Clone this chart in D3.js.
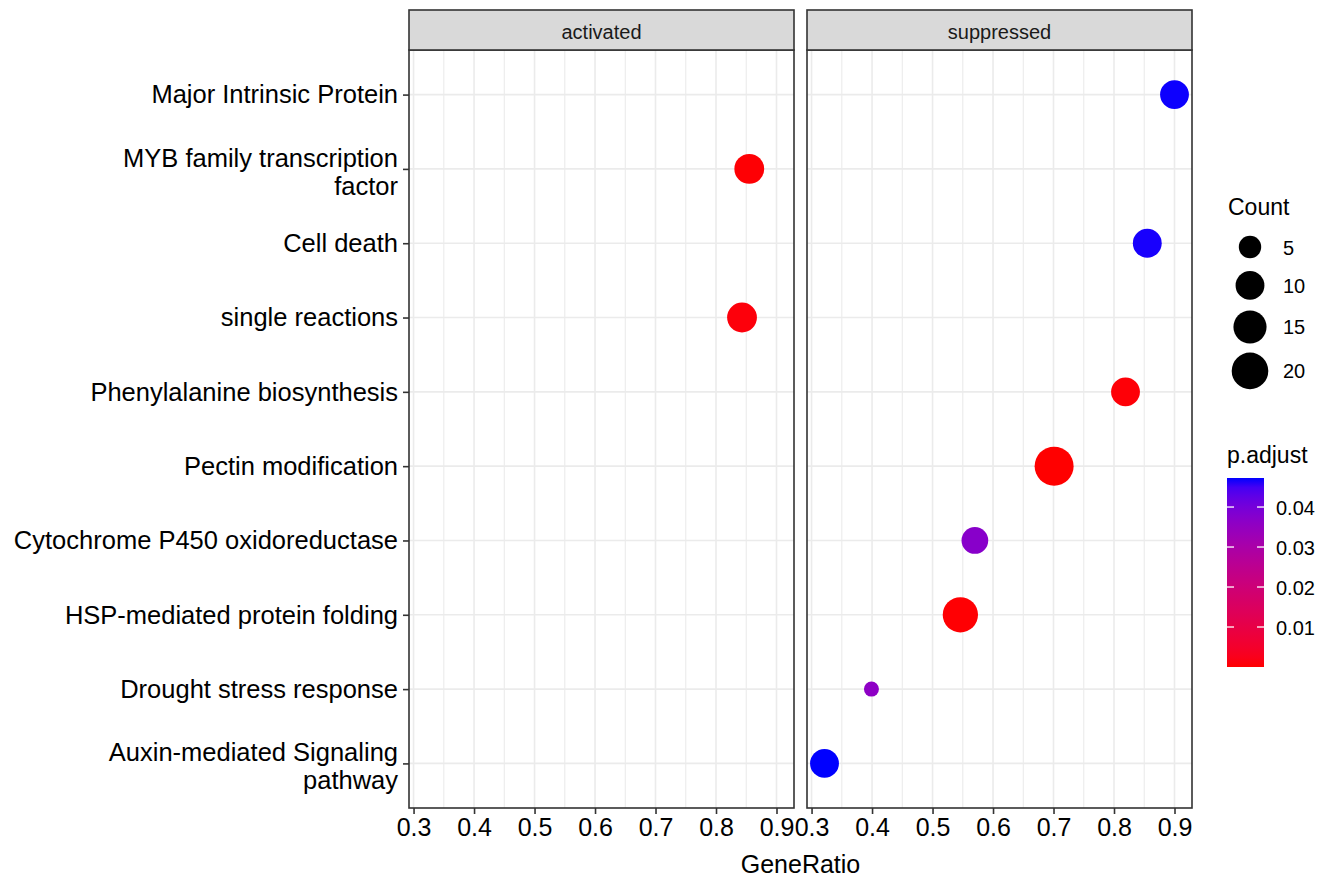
<!DOCTYPE html>
<html>
<head>
<meta charset="utf-8">
<script src="https://cdn.jsdelivr.net/npm/d3@7"></script>
<style>
  html, body { margin: 0; padding: 0; background: #ffffff; }
  svg { display: block; font-family: "Liberation Sans", Arial, sans-serif; }
</style>
</head>
<body>
<svg id="chart" width="1319" height="878"></svg>
<script>
// Facets
const panels = ["activated", "suppressed"];

// Pathway terms, top to bottom ("\n" marks a wrapped label)
const terms = [
  "Major Intrinsic Protein",
  "MYB family transcription\nfactor",
  "Cell death",
  "single reactions",
  "Phenylalanine biosynthesis",
  "Pectin modification",
  "Cytochrome P450 oxidoreductase",
  "HSP-mediated protein folding",
  "Drought stress response",
  "Auxin-mediated Signaling\npathway"
];

// One entry per dot
const pointPanel = ["activated", "activated", "suppressed", "suppressed", "suppressed",
                    "suppressed", "suppressed", "suppressed", "suppressed", "suppressed"];
const pointTerm = [1, 3, 0, 2, 4, 5, 6, 7, 8, 9];
const geneRatio = [0.855, 0.843, 0.900, 0.855, 0.819, 0.701, 0.570, 0.546, 0.399, 0.3214];
const counts    = [11, 11, 10, 10, 10, 24, 8, 18, 3, 10];
const pAdjust   = [0.0003, 0.0008, 0.0471, 0.0469, 0.0005, 0.00001, 0.037, 0.0002, 0.036, 0.04726];

// Axis and legend breaks
const xTicks = [0.3, 0.4, 0.5, 0.6, 0.7, 0.8, 0.9];
const xMinor = [0.35, 0.45, 0.55, 0.65, 0.75, 0.85];
const countBreaks = [5, 10, 15, 20];
const pBreaks = [0.01, 0.02, 0.03, 0.04];

const points = geneRatio.map((g, i) => ({
  panel: pointPanel[i], term: terms[pointTerm[i]], ratio: g, count: counts[i], p: pAdjust[i]
}));

const svg = d3.select("#chart");
const FONT = '"Liberation Sans", Arial, sans-serif';

// Layout
const panelTop = 50, panelBottom = 808, stripTop = 10;
const panelX = { activated: [409, 794], suppressed: [807, 1192] };

// Scales
const ext = d3.extent(geneRatio);
const pad = (ext[1] - ext[0]) * 0.05;
const xScales = {};
panels.forEach(p => {
  xScales[p] = d3.scaleLinear().domain([ext[0] - pad, ext[1] + pad]).range(panelX[p]);
});
const y = d3.scalePoint().domain(terms).range([panelTop, panelBottom]).padding(0.6);

const cExt = d3.extent(counts);
const cRescale = d3.scaleLinear().domain(cExt).range([0, 1]).clamp(true);
const diam = d3.scaleLinear().domain([0, 1]).range([15, 39]);
const radius = c => diam(Math.sqrt(cRescale(c))) / 2;

const pExt = d3.extent(pAdjust);
const pMin = 0, pMax = pExt[1];
const color = d3.scaleLinear().domain([pMin, pMax]).range(["#ff0000", "#0000ff"]).interpolate(d3.interpolateLab);

// Panels
panels.forEach(p => {
  const x = xScales[p];
  const [x0, x1] = panelX[p];
  const g = svg.append("g");

  g.append("rect").attr("x", x0).attr("y", panelTop).attr("width", x1 - x0)
    .attr("height", panelBottom - panelTop).attr("fill", "#ffffff");

  // minor grid
  g.selectAll(".minor").data(xMinor).join("line")
    .attr("x1", d => x(d)).attr("x2", d => x(d))
    .attr("y1", panelTop).attr("y2", panelBottom)
    .attr("stroke", "#ebebeb").attr("stroke-width", 1.1);
  // major grid
  g.selectAll(".majx").data(xTicks).join("line")
    .attr("x1", d => x(d)).attr("x2", d => x(d))
    .attr("y1", panelTop).attr("y2", panelBottom)
    .attr("stroke", "#ebebeb").attr("stroke-width", 1.6);
  g.selectAll(".majy").data(terms).join("line")
    .attr("x1", x0).attr("x2", x1)
    .attr("y1", d => y(d)).attr("y2", d => y(d))
    .attr("stroke", "#ebebeb").attr("stroke-width", 1.6);

  // dots
  g.selectAll("circle").data(points.filter(d => d.panel === p)).join("circle")
    .attr("cx", d => x(d.ratio)).attr("cy", d => y(d.term))
    .attr("r", d => radius(d.count)).attr("fill", d => color(d.p));

  // border
  g.append("rect").attr("x", x0).attr("y", panelTop).attr("width", x1 - x0)
    .attr("height", panelBottom - panelTop).attr("fill", "none")
    .attr("stroke", "#333333").attr("stroke-width", 1.6);

  // strip
  g.append("rect").attr("x", x0).attr("y", stripTop).attr("width", x1 - x0)
    .attr("height", panelTop - stripTop).attr("fill", "#d9d9d9")
    .attr("stroke", "#333333").attr("stroke-width", 1.6);
  g.append("text").attr("x", (x0 + x1) / 2).attr("y", 38.5)
    .attr("text-anchor", "middle").attr("font-size", 20).attr("fill", "#1a1a1a")
    .attr("font-family", FONT).text(p);

  // x axis
  const ax = svg.append("g").attr("transform", `translate(0,${panelBottom})`)
    .call(d3.axisBottom(x).tickValues(xTicks).tickSize(6).tickPadding(4)
      .tickFormat(d3.format(".1f")));
  ax.select(".domain").remove();
  ax.selectAll(".tick line").attr("stroke", "#333333").attr("stroke-width", 1.6);
  ax.selectAll(".tick text").attr("font-size", 25).attr("fill", "#000000")
    .attr("font-family", FONT);
});

// y axis (left panel only)
const ay = svg.append("g").attr("transform", `translate(${panelX.activated[0]},0)`)
  .call(d3.axisLeft(y).tickSize(6).tickFormat(""));
ay.select(".domain").remove();
ay.selectAll(".tick line").attr("stroke", "#333333").attr("stroke-width", 1.6);

const yLab = svg.append("g");
terms.forEach(t => {
  const lines = t.split("\n");
  const n = lines.length;
  const txt = yLab.append("text").attr("text-anchor", "end")
    .attr("font-size", 25.5).attr("fill", "#000000").attr("font-family", FONT);
  lines.forEach((ln, i) => {
    txt.append("tspan").attr("x", 398)
      .attr("y", y(t) + 8.8 + (i - (n - 1) / 2) * 28 + (n > 1 ? 3 : 0))
      .text(ln);
  });
});

// x axis title
svg.append("text").attr("x", (panelX.activated[0] + panelX.suppressed[1]) / 2).attr("y", 873)
  .attr("text-anchor", "middle").attr("font-size", 25).attr("fill", "#000000")
  .attr("font-family", FONT).text("GeneRatio");

// Size legend
const lg = svg.append("g");
lg.append("text").attr("x", 1228).attr("y", 215).attr("font-size", 23)
  .attr("font-family", FONT).attr("fill", "#000000").text("Count");
let cy = 247 - (0.6 * 2 * radius(countBreaks[0]) + 23) / 2;
countBreaks.forEach(b => {
  const h = 0.6 * 2 * radius(b) + 23;
  const c = cy + h / 2;
  lg.append("circle").attr("cx", 1250).attr("cy", c).attr("r", radius(b)).attr("fill", "#000000");
  lg.append("text").attr("x", 1283).attr("y", c + 7.5).attr("font-size", 20)
    .attr("font-family", FONT).attr("fill", "#000000").text(b);
  cy += h;
});

// Colour bar legend
const barX = 1227, barW = 37, barTop = 478, barBottom = 667;
const barY = d3.scaleLinear().domain([pMin, pMax]).range([barBottom, barTop]);
const defs = svg.append("defs");
const grad = defs.append("linearGradient").attr("id", "pgrad")
  .attr("x1", 0).attr("y1", 1).attr("x2", 0).attr("y2", 0);
d3.range(0, 1.0001, 0.05).forEach(t => {
  grad.append("stop").attr("offset", t).attr("stop-color", color(pMin + t * (pMax - pMin)));
});
lg.append("text").attr("x", 1227).attr("y", 463).attr("font-size", 23)
  .attr("font-family", FONT).attr("fill", "#000000").text("p.adjust");
lg.append("rect").attr("x", barX).attr("y", barTop).attr("width", barW)
  .attr("height", barBottom - barTop).attr("fill", "url(#pgrad)");
pBreaks.forEach(b => {
  const yy = barY(b);
  lg.append("line").attr("x1", barX).attr("x2", barX + 7).attr("y1", yy).attr("y2", yy)
    .attr("stroke", "#ffffff").attr("stroke-width", 1.3);
  lg.append("line").attr("x1", barX + barW - 7).attr("x2", barX + barW).attr("y1", yy).attr("y2", yy)
    .attr("stroke", "#ffffff").attr("stroke-width", 1.3);
  lg.append("text").attr("x", 1276).attr("y", yy + 7.5).attr("font-size", 20)
    .attr("font-family", FONT).attr("fill", "#000000").text(d3.format(".2f")(b));
});
</script>
</body>
</html>
